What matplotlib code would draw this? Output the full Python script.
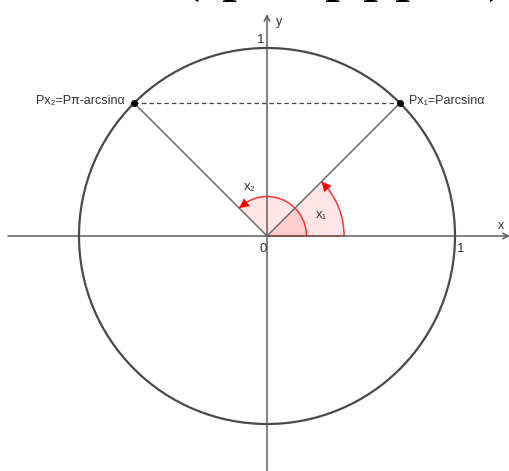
import numpy as np
import matplotlib
matplotlib.use('Agg')
import matplotlib.pyplot as plt
from matplotlib.patches import Circle, Wedge, Arc

# unit circle, angle x1 = arcsin(a), x2 = pi - arcsin(a)
point_angles = [45, 135]          # degrees
point_labels = ['Px\u2081=Parcsin\u03b1', 'Px\u2082=P\u03c0-arcsin\u03b1']
arc_radii = [0.41, 0.21]
arc_labels = ['x\u2081', 'x\u2082']
arc_label_pos = [(0.29, 0.11), (-0.09, 0.26)]
tick_labels = ['0', '1', '1']
top_chars = ['(', 'p', 'p', 'p', 'p', ')']
top_char_x = [190, 237, 340, 378, 410, 497]   # pixels, clipped line of text above

W, H = 510, 471
ox, oy, unit = 267, 236, 188

fig = plt.figure(figsize=(W / 100, H / 100), dpi=100)
ax = fig.add_axes([0, 0, 1, 1])
ax.set_xlim(-ox / unit, (W - ox) / unit)
ax.set_ylim(-(H - oy) / unit, oy / unit)
ax.set_aspect('equal')
ax.axis('off')

font = ['Liberation Sans', 'DejaVu Sans']
axis_col = '#606060'

# axes with arrows
ax.annotate('', xy=((W - ox) / unit, 0), xytext=(-(ox - 8) / unit, 0),
            arrowprops=dict(arrowstyle='->', color=axis_col, lw=1.1, shrinkA=0, shrinkB=0))
ax.annotate('', xy=(0, (oy - 14) / unit), xytext=(0, -(H - oy) / unit),
            arrowprops=dict(arrowstyle='->', color=axis_col, lw=1.1, shrinkA=0, shrinkB=0))
ax.text((W - ox - 12) / unit, 0.02, 'x', fontsize=9, family=font, color='#333333', va='bottom')
ax.text(0.05, (oy - 22) / unit, 'y', fontsize=9, family=font, color='#333333', va='center')

# unit circle
ax.add_patch(Circle((0, 0), 1, fill=False, edgecolor='#4a4a4a', lw=1.6, zorder=3))

# wedges and arrowed arcs
arc_col = '#ff3333'
for r, ang in zip(arc_radii, point_angles):
    ax.add_patch(Wedge((0, 0), r, 0, ang, facecolor=(1, 0, 0, 0.1), edgecolor='none', zorder=1))
    ax.add_patch(Arc((0, 0), 2 * r, 2 * r, theta1=0, theta2=ang, color=arc_col, lw=1.1, zorder=2))
    ax.plot([0, r], [0, 0], color=arc_col, lw=1.1, zorder=2)
    t_end = np.radians(ang)
    t_start = np.radians(ang - 0.06 / r * 180 / np.pi)
    ax.annotate('', xy=(r * np.cos(t_end), r * np.sin(t_end)),
                xytext=(r * np.cos(t_start), r * np.sin(t_start)),
                arrowprops=dict(arrowstyle='-|>,head_length=0.7,head_width=0.35',
                                color='red', lw=0, shrinkA=0, shrinkB=0), zorder=4)

for lab, (lx, ly) in zip(arc_labels, arc_label_pos):
    ax.text(lx, ly, lab, fontsize=9.5, family=font, color='#333333', ha='center', va='center')

# radii to points and dashed chord
pts = [(np.cos(np.radians(a)), np.sin(np.radians(a))) for a in point_angles]
for px, py in pts:
    ax.plot([0, px], [0, py], color='#6a6a6a', lw=1.1, zorder=2)
ax.plot([pts[1][0], pts[0][0]], [pts[1][1], pts[0][1]], color='#444444', lw=0.9,
        dashes=(3.5, 2.5), zorder=2)
ax.scatter([p[0] for p in pts], [p[1] for p in pts], s=16, color='black', zorder=5)

ax.text(pts[0][0] + 0.05, pts[0][1] + 0.01, point_labels[0], fontsize=9, family=font,
        color='#333333', ha='left', va='center')
ax.text(pts[1][0] - 0.05, pts[1][1] + 0.01, point_labels[1], fontsize=9, family=font,
        color='#333333', ha='right', va='center')

# tick labels
ax.text(0.0, -0.035, tick_labels[0], fontsize=9.5, family=font, color='#333333', ha='right', va='top')
ax.text(1.01, -0.035, tick_labels[1], fontsize=9.5, family=font, color='#333333', ha='left', va='top')
ax.text(-0.015, 1.01, tick_labels[2], fontsize=9.5, family=font, color='#333333', ha='right', va='bottom')

# clipped serif line at top edge: only descenders remain in view
for ch, x in zip(top_chars, top_char_x):
    fig.text(x / W, 1 + 11 / H, ch, fontsize=44, family=['Liberation Serif', 'DejaVu Serif'],
             color='black', ha='center', va='baseline')

fig.savefig('out.png', dpi=100)
